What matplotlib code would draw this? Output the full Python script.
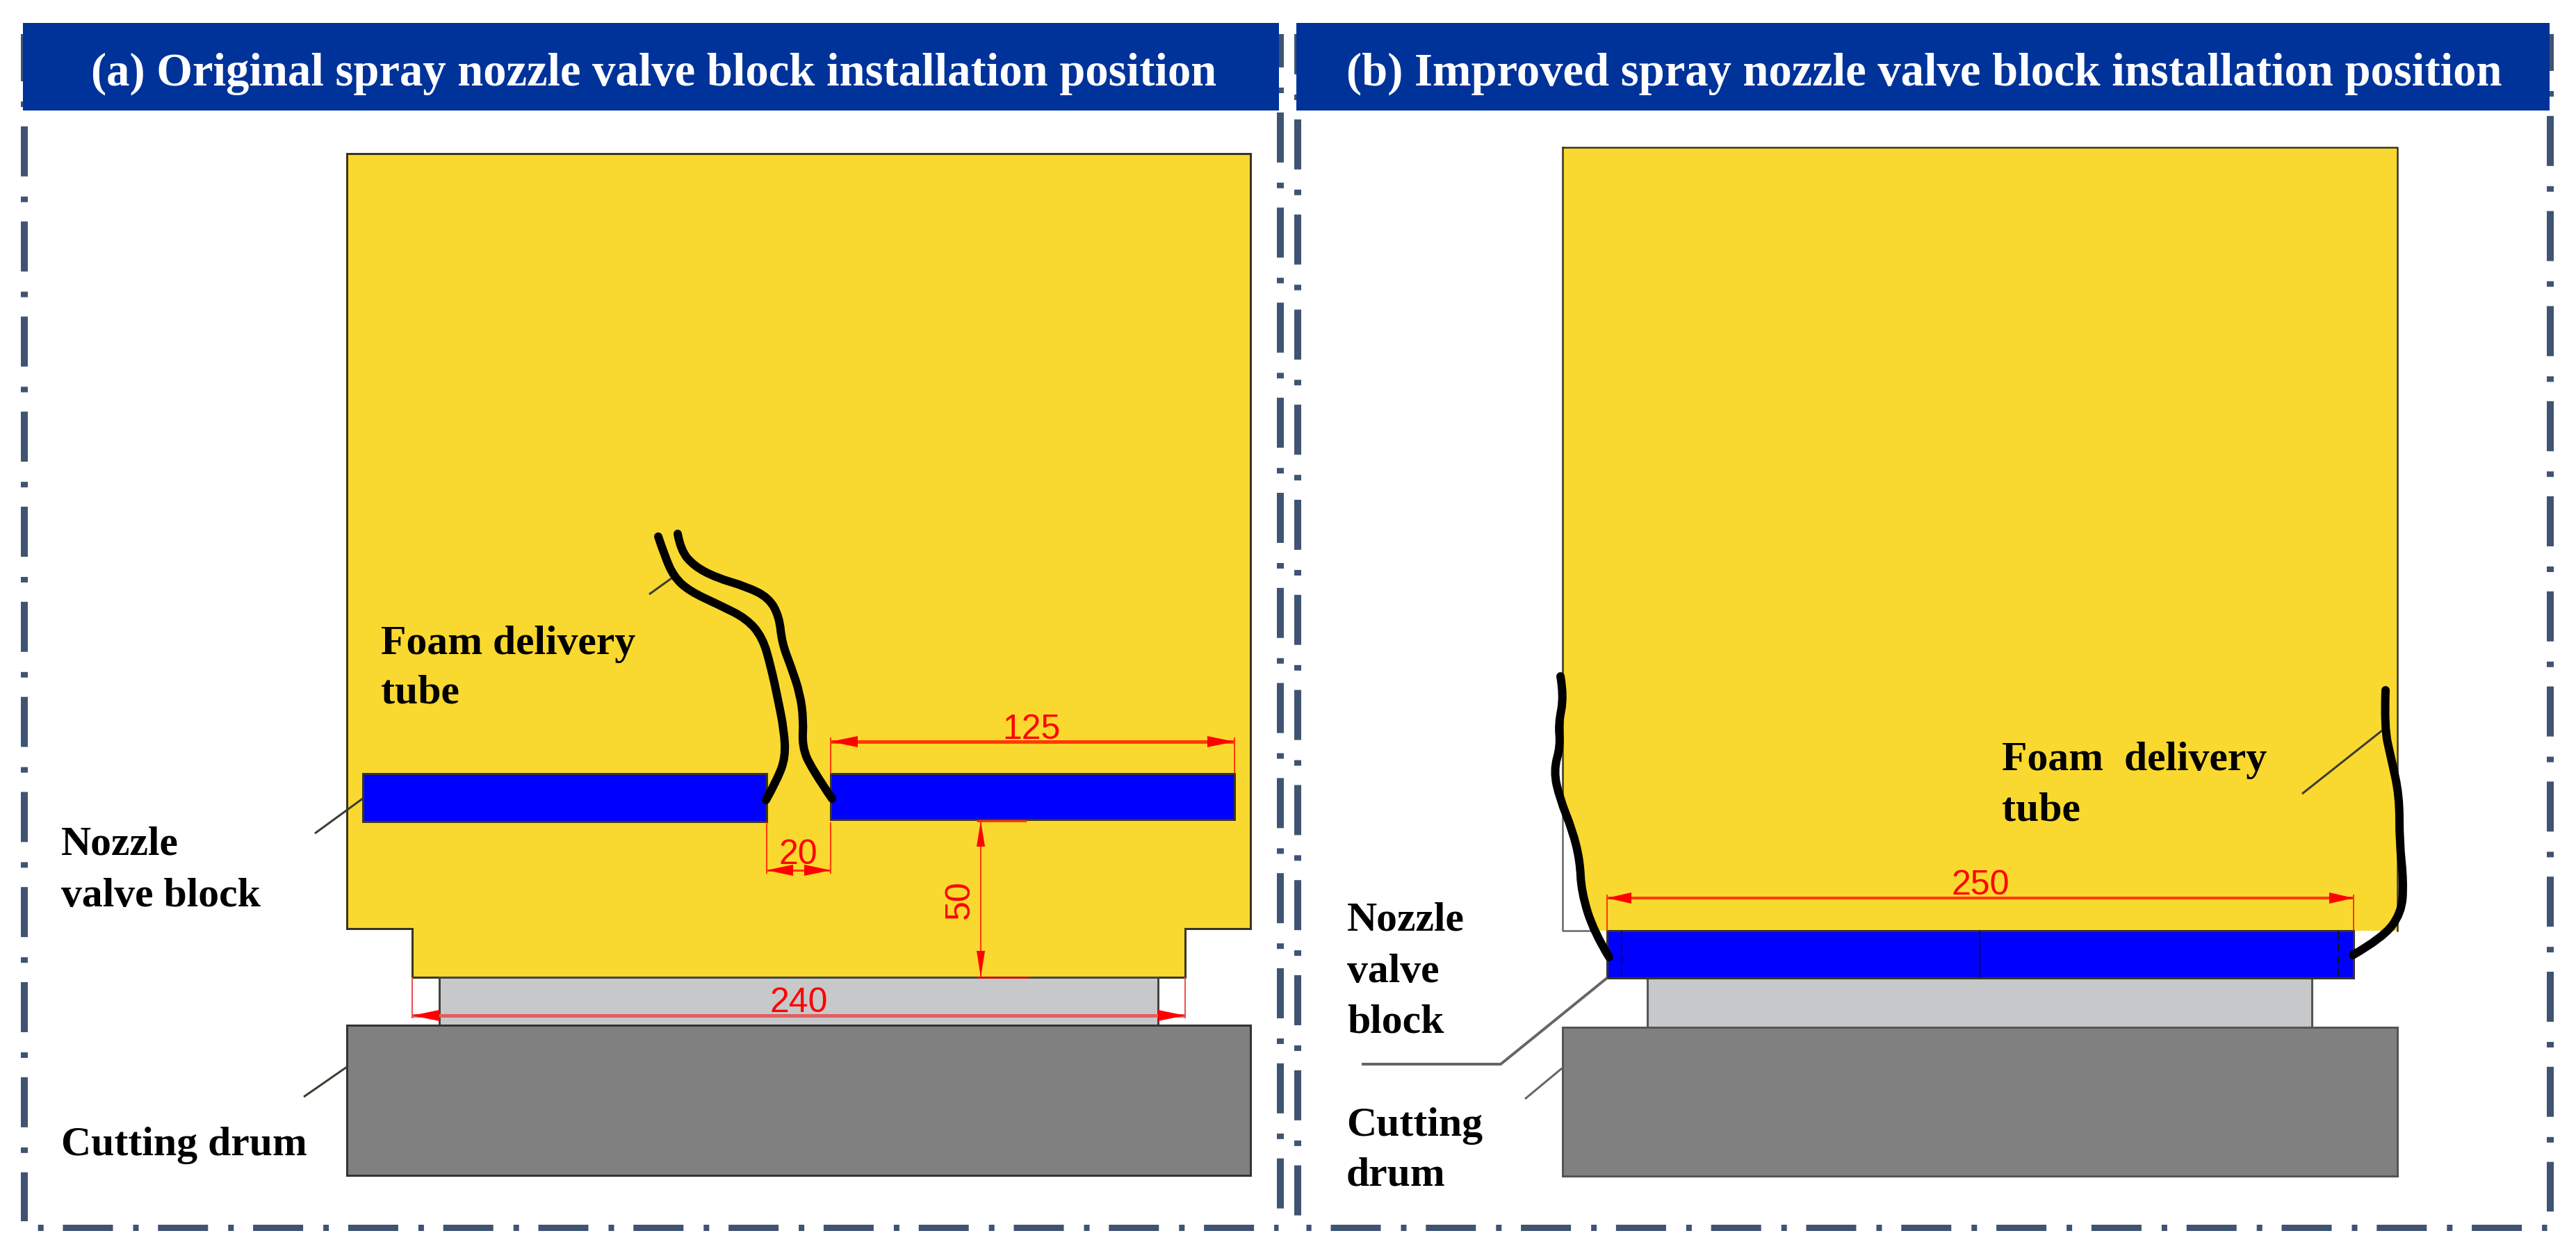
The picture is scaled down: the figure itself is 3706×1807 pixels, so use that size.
import matplotlib
matplotlib.use('Agg')
import matplotlib.pyplot as plt
from matplotlib.path import Path
from matplotlib.patches import PathPatch, Polygon, Rectangle

W, H = 3706, 1808

# outlines and tubes (pixels, y down)
yellow_a = [(499, 222), (1799, 222), (1799, 1337), (1705, 1337), (1705, 1407),
            (593, 1407), (593, 1337), (499, 1337)]
blue_a_left = (522, 1114, 1103, 1183)
blue_a_right = (1195, 1114, 1776, 1180)
gray_a = (632, 1407, 1666, 1476)
drum_a = (499, 1476, 1799, 1692)
tube_a_left = [(947, 773), (956, 800), (969, 830), (991, 851), (1036, 872), (1074, 891),
               (1097, 918), (1109, 960), (1119, 1006), (1128, 1052), (1130, 1090),
               (1119, 1121), (1102, 1152)]
tube_a_right = [(975, 769), (979, 792), (998, 815), (1030, 832), (1074, 845), (1106, 861),
                (1121, 888), (1125, 926), (1138, 960), (1151, 999), (1156, 1037),
                (1154, 1075), (1167, 1106), (1197, 1150)]

yellow_b = [(2248, 213), (3449, 213), (3449, 1340), (2293, 1340), (2275, 1284),
            (2273, 1239), (2262, 1195), (2248, 1150)]
outline_b = [(2248, 1150), (2248, 1340), (2293, 1340)]
blue_b = (2312, 1340, 3386, 1408)
gray_b = (2370, 1408, 3326, 1479)
drum_b = (2248, 1479, 3449, 1693)
tube_b_left = [(2245, 974), (2250, 1003), (2242, 1043), (2245, 1074), (2235, 1110),
               (2244, 1150), (2262, 1195), (2273, 1239), (2275, 1284), (2293, 1342),
               (2315, 1378)]
tube_b_right = [(3432, 994), (3430, 1047), (3440, 1092), (3452, 1146), (3452, 1212),
                (3458, 1270), (3455, 1315), (3427, 1351), (3385, 1375)]

# dimension text
dim_labels = ['125', '20', '50', '240', '250']
titles = ['(a) Original spray nozzle valve block installation position',
          '(b) Improved spray nozzle valve block installation position']

YELLOW = '#F9D82F'
BLUE = '#0000FF'
NAVY = '#003399'
FRAME = '#3F5472'
RED = '#FF0000'
EDGE = '#3A3520'

fig = plt.figure(figsize=(W / 100, H / 100), dpi=100)
ax = fig.add_axes([0, 0, 1, 1])
ax.set_xlim(0, W)
ax.set_ylim(H, 0)
ax.axis('off')


def px(n):
    return n * 72 / 100


def rect(box, color, edge=EDGE, lw=3, z=2):
    x0, y0, x1, y1 = box
    ax.add_patch(Rectangle((x0, y0), x1 - x0, y1 - y0, facecolor=color, edgecolor=edge,
                           linewidth=px(lw), zorder=z))


def tube(points, z=6):
    # read points used as spline controls, so the tube stays smooth
    verts = [points[0]]
    codes = [Path.MOVETO]
    for p, q in zip(points[1:-1], points[2:-1]):
        verts += [p, ((p[0] + q[0]) / 2, (p[1] + q[1]) / 2)]
        codes += [Path.CURVE3, Path.CURVE3]
    verts += [points[-2], points[-1]]
    codes += [Path.CURVE3, Path.CURVE3]
    ax.add_patch(PathPatch(Path(verts, codes), fill=False, edgecolor='black', linewidth=px(12),
                           capstyle='round', zorder=z))


def leader(xs, ys, color='#3C3C30', lw=3):
    ax.plot(xs, ys, color=color, linewidth=px(lw), zorder=5, solid_capstyle='butt')


def arrow_h(x_tip, x_base, y, half=8):
    ax.add_patch(Polygon([(x_tip, y), (x_base, y - half), (x_base, y + half)], color=RED,
                         linewidth=0, zorder=8))


def arrow_v(x, y_tip, y_base, half=6):
    ax.add_patch(Polygon([(x, y_tip), (x - half, y_base), (x + half, y_base)], color=RED,
                         linewidth=0, zorder=8))


def dim_line(xs, ys, color='#FF3A00', lw=4):
    ax.plot(xs, ys, color=color, linewidth=px(lw), zorder=7, solid_capstyle='butt')


def dash_frame(xs, ys, first_dash, lw):
    # long dash 72, gap 29, dot 8, gap 27.8; first_dash is where one long dash begins
    start = xs[0] if xs[0] != xs[1] else ys[0]
    offset = (start - first_dash) % 136.8
    ax.plot(xs, ys, color=FRAME, linewidth=px(lw), zorder=1, solid_capstyle='butt',
            linestyle=(offset / lw, (72 / lw, 29 / lw, 8 / lw, 27.8 / lw)))


# dash-dot frames (the headers sit on top of them)
dash_frame([34.7, 34.7], [50, 1758], 46, 10)
dash_frame([1841.5, 1841.5], [50, 1740], 26, 10)
dash_frame([1866.5, 1866.5], [50, 1752], 36, 10)
dash_frame([3669, 3669], [50, 1744], 31, 10)
dash_frame([54, 1839], [1767, 1767], 90, 9)
dash_frame([1879, 3664], [1767, 1767], 1914, 9)

# headers
for box, label, tx in [((33, 34, 1840, 160), titles[0], 131), ((1865, 34, 3668, 160), titles[1], 1937)]:
    rect(box, NAVY, edge='none', lw=0, z=3)
    ax.text(tx, 123, label, color='white', family='Liberation Serif', weight='bold', fontsize=48,
            ha='left', va='baseline', zorder=4)

# panel a
ax.add_patch(Polygon(yellow_a, closed=True, facecolor=YELLOW, edgecolor=EDGE, linewidth=px(3), zorder=2))
rect(gray_a, '#C6C8C9', edge='#444444')
rect(drum_a, '#808080', edge='#333333')
rect(blue_a_left, BLUE)
rect(blue_a_right, BLUE)
tube(tube_a_left)
tube(tube_a_right)
leader([934, 966], [856, 833])
leader([453, 523], [1200, 1149])
leader([437, 499], [1579, 1536])

# 125
dim_line([1195, 1776], [1068, 1068], lw=5)
dim_line([1195, 1195], [1062, 1114], lw=2)
dim_line([1776, 1776], [1062, 1114], lw=2)
arrow_h(1195, 1234, 1068)
arrow_h(1776, 1737, 1068)
# 20
dim_line([1103, 1195], [1253, 1253], lw=3)
dim_line([1103, 1103], [1184, 1258], lw=2)
dim_line([1195, 1195], [1184, 1258], lw=2)
arrow_h(1103, 1141, 1253)
arrow_h(1195, 1157, 1253)
# 50
dim_line([1411, 1411], [1182, 1407], lw=2)
dim_line([1405, 1477], [1182, 1182], lw=3)
dim_line([1405, 1481], [1407, 1407], color='#C01810', lw=3)
arrow_v(1411, 1182, 1219)
arrow_v(1411, 1407, 1369)
# 240
dim_line([593, 1705], [1462, 1462], color='#E06060', lw=5)
dim_line([593, 593], [1407, 1466], color='#F05050', lw=2)
dim_line([1705, 1705], [1407, 1466], color='#F05050', lw=2)
arrow_h(593, 632, 1462)
arrow_h(1705, 1666, 1462)

# panel b
ax.add_patch(Polygon(yellow_b, closed=True, facecolor=YELLOW, edgecolor='none', zorder=2))
ax.plot([2248, 3449, 3449], [213, 213, 1340], color=EDGE, linewidth=px(2.5), zorder=2)
ax.plot([2248, 2248], [213, 1150], color=EDGE, linewidth=px(2.5), zorder=2)
ax.plot(*zip(*outline_b), color='#666666', linewidth=px(2.5), zorder=2)
rect(gray_b, '#C6C8C9', edge='#555555')
rect(drum_b, '#808080', edge='#555555')
rect(blue_b, BLUE, edge=EDGE)
leader([2848, 2848], [1340, 1408], color='#101030', lw=2)
for xd in [2333, 3364]:
    ax.plot([xd, xd], [1340, 1408], color='#101030', linewidth=px(2), linestyle=(0, (6, 3)), zorder=5)
tube(tube_b_left)
tube(tube_b_right)
leader([3312, 3427], [1143, 1052])
leader([1959, 2159, 2312], [1532, 1532, 1408], color='#666666', lw=4)
leader([2194, 2247], [1582, 1538], color='#666666')
# 250
dim_line([2312, 3386], [1293, 1293], lw=4)
dim_line([2312, 2312], [1288, 1340], lw=2)
dim_line([3386, 3386], [1288, 1340], lw=2)
arrow_h(2312, 2347, 1293)
arrow_h(3386, 3351, 1293)

# dimension numbers
for label, x, y in [(dim_labels[0], 1484, 1063), (dim_labels[1], 1148, 1243),
                    (dim_labels[3], 1149, 1456), (dim_labels[4], 2849, 1287)]:
    ax.text(x, y, label, color=RED, family='Liberation Sans', fontsize=36,
            ha='center', va='baseline', zorder=9)
ax.text(1381, 1294, dim_labels[2], color=RED, family='Liberation Sans', fontsize=36, rotation=90,
        ha='center', va='center', zorder=9)

# callouts
callouts = [(548, 941, 'Foam delivery'), (548, 1012, 'tube'),
            (88, 1230, 'Nozzle'), (88, 1304, 'valve block'),
            (88, 1662, 'Cutting drum'),
            (2880, 1108, 'Foam  delivery'), (2880, 1181, 'tube'),
            (1938, 1339, 'Nozzle'), (1938, 1413, 'valve'), (1938, 1486, 'block'),
            (1937, 1634, 'Cutting'), (1937, 1706, 'drum')]
for x, y, label in callouts:
    ax.text(x, y, label, color='black', family='Liberation Serif', weight='bold', fontsize=43,
            ha='left', va='baseline', zorder=9)

fig.savefig('out.png', dpi=100, facecolor='white')
